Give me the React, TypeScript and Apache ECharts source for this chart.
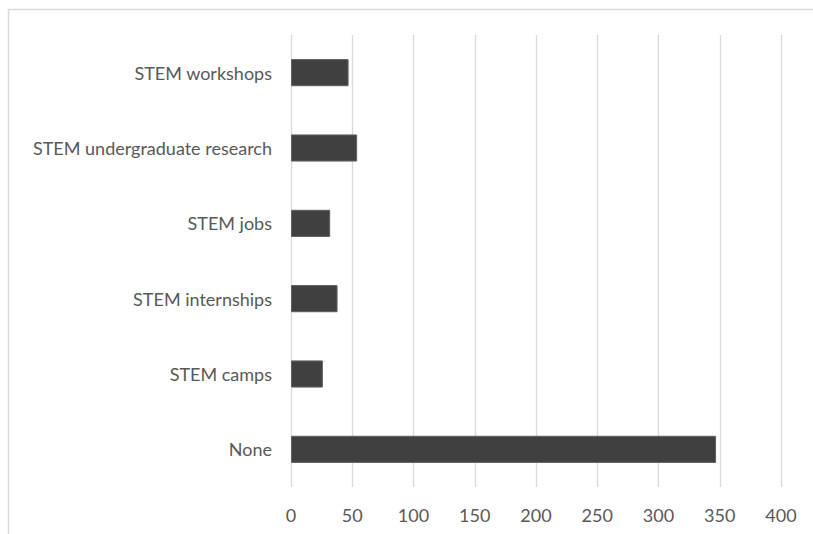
import React, { useEffect, useRef } from "react";
import * as echarts from "echarts";

const categories = [
  "None",
  "STEM camps",
  "STEM internships",
  "STEM jobs",
  "STEM undergraduate research",
  "STEM workshops",
];
const values = [347, 26, 38, 32, 54, 47];
const xTicks = { min: 0, max: 400, interval: 50 };

export default function App() {
  const ref = useRef<HTMLDivElement>(null);
  useEffect(() => {
    if (!ref.current) return;
    const chart = echarts.init(ref.current, undefined, { renderer: "svg" });
    chart.setOption({
      animation: false,
      backgroundColor: "#ffffff",
      graphic: [
        {
          type: "rect",
          shape: { x: 8.5, y: 9.5, width: 900, height: 700 },
          style: { fill: "none", stroke: "#d9d9d9", lineWidth: 1.5 },
          silent: true,
        },
      ],
      grid: { left: 291, right: 32, top: 35, bottom: 47, containLabel: false },
      xAxis: {
        type: "value",
        min: xTicks.min,
        max: xTicks.max,
        interval: xTicks.interval,
        axisLine: { show: false },
        axisTick: { show: false },
        splitLine: { show: true, lineStyle: { color: "#d9d9d9", width: 1.3 } },
        axisLabel: {
          color: "#595959",
          fontFamily: "Lato, 'Open Sans', sans-serif",
          fontSize: 18,
          margin: 19,
        },
      },
      yAxis: {
        type: "category",
        data: categories,
        axisLine: { show: false },
        axisTick: { show: false },
        splitLine: { show: false },
        axisLabel: {
          color: "#595959",
          fontFamily: "Lato, 'Open Sans', sans-serif",
          fontSize: 18,
          margin: 19,
        },
      },
      series: [
        {
          type: "bar",
          data: values,
          barWidth: "36%",
          itemStyle: { color: "#404040", borderColor: "#5f5f5f", borderWidth: 1 },
        },
      ],
    });
    return () => chart.dispose();
  }, []);
  return (
    <div
      ref={ref}
      style={{ position: "absolute", left: 0, top: 0, width: 813, height: 534 }}
    />
  );
}
